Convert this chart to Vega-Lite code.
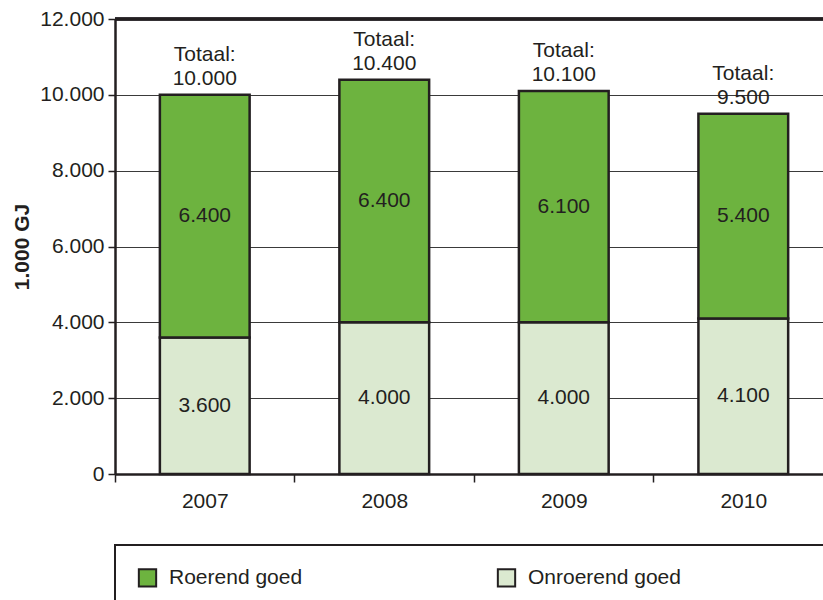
{
  "$schema": "https://vega.github.io/schema/vega-lite/v6.json",
  "autosize": "none",
  "width": 708,
  "height": 455,
  "padding": {"left": 115, "top": 19, "right": 0, "bottom": 126},
  "data": {
    "values": [
      {"jaar": "2007", "type": "Onroerend goed", "waarde": 3600},
      {"jaar": "2007", "type": "Roerend goed", "waarde": 6400},
      {"jaar": "2008", "type": "Onroerend goed", "waarde": 4000},
      {"jaar": "2008", "type": "Roerend goed", "waarde": 6400},
      {"jaar": "2009", "type": "Onroerend goed", "waarde": 4000},
      {"jaar": "2009", "type": "Roerend goed", "waarde": 6100},
      {"jaar": "2010", "type": "Onroerend goed", "waarde": 4100},
      {"jaar": "2010", "type": "Roerend goed", "waarde": 5400}
    ]
  },
  "layer": [
    {
      "mark": {"type": "bar", "stroke": "#231f20", "strokeWidth": 2.5},
      "encoding": {
        "x": {
          "field": "jaar", "type": "nominal", "title": null,
          "scale": {"paddingInner": 0.5, "paddingOuter": 0.222, "align": 0.563},
          "axis": {"labelAngle": 0, "bandPosition": 0, "tickOffset": -45, "labelOffset": 45, "tickSize": 8, "labelPadding": 8, "grid": false}
        },
        "y": {
          "field": "waarde", "type": "quantitative", "stack": "zero",
          "title": "1.000 GJ",
          "scale": {"domain": [0, 12000], "nice": false},
          "axis": {
            "values": [0, 2000, 4000, 6000, 8000, 10000, 12000],
            "labelExpr": "replace(format(datum.value, ','), ',', '.')",
            "grid": true, "gridColor": "#3a3a3a", "gridWidth": 1.2,
            "tickSize": 7, "labelPadding": 4,
            "titleFontWeight": "bold", "titleFontSize": 21, "titlePadding": 7
          }
        },
        "color": {
          "field": "type", "type": "nominal",
          "scale": {"domain": ["Roerend goed", "Onroerend goed"], "range": ["#6db33f", "#dbe9d0"]},
          "legend": {
            "title": null, "orient": "none", "legendX": 0, "legendY": 526,
            "direction": "horizontal", "columns": 2, "columnPadding": 190,
            "symbolType": "square", "symbolSize": 300, "symbolStrokeColor": "#231f20",
            "symbolStrokeWidth": 2, "symbolOpacity": 1,
            "labelFontSize": 21, "labelOffset": 11, "labelLimit": 600,
            "labelExpr": "datum.label == 'Onroerend goed' ? datum.label + '\u00a0\u00a0\u00a0\u00a0\u00a0\u00a0\u00a0\u00a0\u00a0\u00a0\u00a0\u00a0\u00a0\u00a0\u00a0\u00a0\u00a0\u00a0\u00a0\u00a0\u00a0\u00a0\u200b' : datum.label",
            "padding": 22, "strokeColor": "#231f20"
          }
        },
        "order": {"field": "type", "type": "nominal", "sort": "ascending"}
      }
    },
    {
      "mark": {"type": "text", "fontSize": 21, "color": "#231f20"},
      "encoding": {
        "x": {"field": "jaar", "type": "nominal"},
        "y": {"field": "waarde", "type": "quantitative", "stack": "zero", "bandPosition": 0.5},
        "text": {"field": "waarde", "type": "quantitative", "format": ","},
        "order": {"field": "type", "type": "nominal", "sort": "ascending"}
      }
    },
    {
      "transform": [{"aggregate": [{"op": "sum", "field": "waarde", "as": "totaal"}], "groupby": ["jaar"]}],
      "mark": {"type": "text", "fontSize": 21, "color": "#231f20", "baseline": "alphabetic", "dy": -10},
      "encoding": {
        "x": {"field": "jaar", "type": "nominal"},
        "y": {"field": "totaal", "type": "quantitative"},
        "text": {"field": "totaal", "type": "quantitative", "format": ","}
      }
    },
    {
      "transform": [{"aggregate": [{"op": "sum", "field": "waarde", "as": "totaal"}], "groupby": ["jaar"]}],
      "mark": {"type": "text", "fontSize": 21, "color": "#231f20", "baseline": "alphabetic", "dy": -34, "text": "Totaal:"},
      "encoding": {
        "x": {"field": "jaar", "type": "nominal"},
        "y": {"field": "totaal", "type": "quantitative"}
      }
    },
    {
      "mark": {"type": "rule", "color": "#231f20", "strokeWidth": 2.5},
      "encoding": {"y": {"datum": 12000}}
    }
  ],
  "config": {
    "locale": {"number": {"decimal": ",", "thousands": ".", "grouping": [3], "currency": ["€", ""]}},
    "font": "Liberation Sans",
    "view": {"stroke": null},
    "axis": {
      "labelFont": "Liberation Sans", "titleFont": "Liberation Sans",
      "labelFontSize": 21, "labelColor": "#231f20", "titleColor": "#231f20",
      "domainColor": "#231f20", "domainWidth": 2.5, "tickColor": "#231f20", "tickWidth": 1.5
    },
    "legend": {"labelFont": "Liberation Sans", "labelColor": "#231f20", "strokeWidth": 2}
  }
}
